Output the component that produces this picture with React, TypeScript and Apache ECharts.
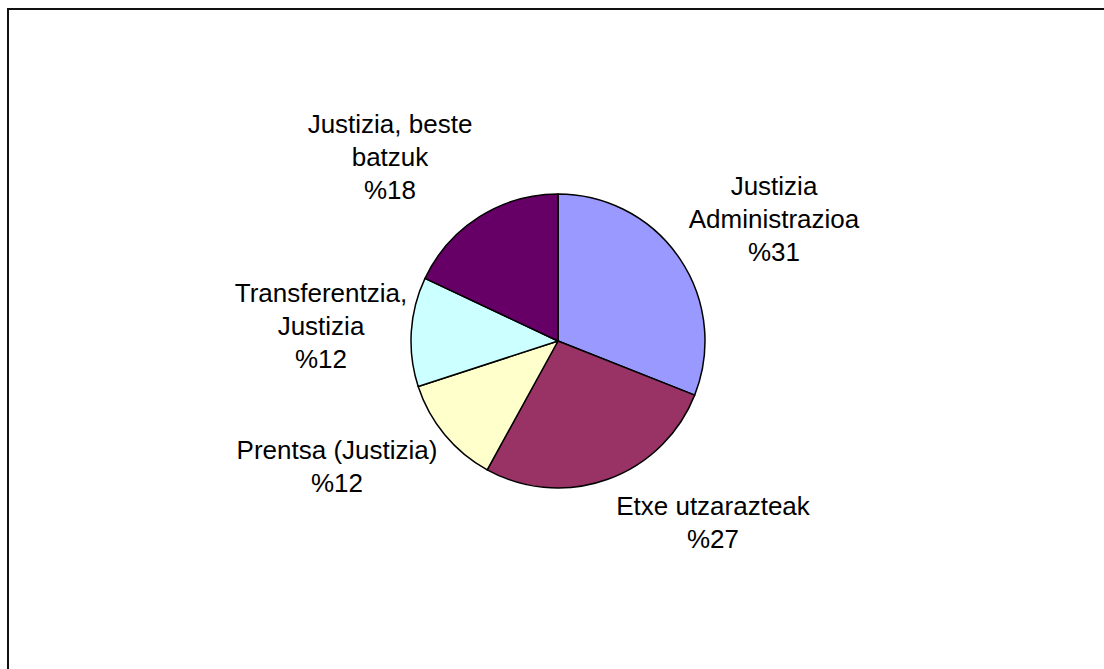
import React, { useEffect, useRef } from "react";
import * as echarts from "echarts";

// Data
const categories: string[] = [
  "Justizia\nAdministrazioa",
  "Etxe utzarazteak",
  "Prentsa (Justizia)",
  "Transferentzia,\nJustizia",
  "Justizia, beste\nbatzuk",
];
const shares: number[] = [31, 27, 12, 12, 18];

// Styling / layout (not data)
const COLORS = ["#9999FF", "#993366", "#FFFFCC", "#CCFFFF", "#660066"];
const LABEL_ANCHORS: [number, number][] = [
  [774, 219],
  [713, 522],
  [337, 466],
  [321, 326],
  [390, 157],
];

export default function App() {
  const ref = useRef<HTMLDivElement>(null);
  useEffect(() => {
    document.body.style.margin = "0";
    if (!ref.current) return;
    const chart = echarts.init(ref.current, null, { renderer: "svg" });
    chart.setOption({
      animation: false,
      backgroundColor: "#ffffff",
      graphic: [
        {
          type: "rect",
          shape: { x: 8, y: 9, width: 1200, height: 800 },
          style: { fill: "none", stroke: "#111", lineWidth: 2 },
          silent: true,
        },
      ],
      series: [
        {
          type: "pie",
          center: [558, 341],
          radius: [0, 147],
          startAngle: 90,
          clockwise: true,
          avoidLabelOverlap: false,
          itemStyle: { borderColor: "#000", borderWidth: 1.5 },
          label: {
            show: true,
            position: "outside",
            formatter: (p: any) => `${p.name}\n%${p.value}`,
            fontFamily: "Liberation Sans, Arial, sans-serif",
            fontSize: 26,
            lineHeight: 33,
            color: "#000",
            align: "center",
          },
          labelLine: { show: false },
          labelLayout: (params: any) => {
            const a = LABEL_ANCHORS[params.dataIndex];
            return { x: a[0], y: a[1], align: "center", verticalAlign: "middle" };
          },
          emphasis: { disabled: true },
          data: categories.map((name, i) => ({
            name,
            value: shares[i],
            itemStyle: { color: COLORS[i] },
          })),
        },
      ],
    });
    return () => chart.dispose();
  }, []);
  return (
    <div
      ref={ref}
      style={{ position: "fixed", left: 0, top: 0, width: 1104, height: 669 }}
    />
  );
}
